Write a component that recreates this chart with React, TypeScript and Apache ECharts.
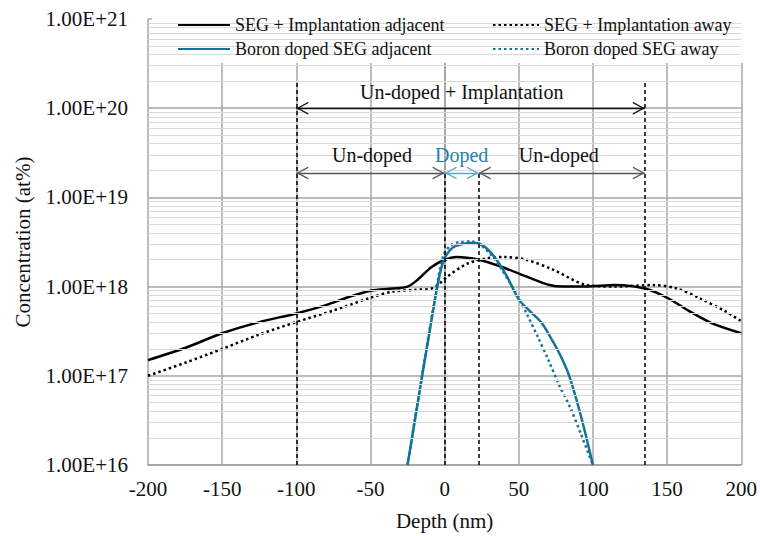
import React, { useEffect, useRef } from 'react';
import * as echarts from 'echarts';

// ---- data (depth in nm, concentration in at%) ----
const segAdjDepth = [-200, -175, -150, -125, -100, -80, -65, -50, -35, -25, -18, -9, 0, 8, 23, 39, 55, 70, 80, 95, 115, 135, 150, 165, 180, 200];
const segAdjConc = [1.5e17, 2.05e17, 3.0e17, 4.0e17, 5.0e17, 6.2e17, 7.6e17, 9.0e17, 9.5e17, 1.0e18, 1.2e18, 1.65e18, 2.0e18, 2.15e18, 2.0e18, 1.65e18, 1.3e18, 1.05e18, 1.0e18, 1.0e18, 1.04e18, 9.5e17, 7.5e17, 5.3e17, 3.9e17, 3.0e17];

const segAwayDepth = [-200, -175, -150, -125, -100, -75, -50, -35, -20, -8, 2, 15, 28, 40, 55, 73, 95, 115, 140, 156, 172, 190, 200];
const segAwayConc = [1.0e17, 1.4e17, 2.0e17, 2.9e17, 4.0e17, 5.4e17, 7.5e17, 8.8e17, 9.2e17, 9.6e17, 1.3e18, 1.8e18, 2.07e18, 2.15e18, 2.0e18, 1.55e18, 1.05e18, 1.0e18, 1.04e18, 9.6e17, 7.4e17, 5.2e17, 4.1e17];

const boronAdjDepth = [-25, -6, -1, 5, 12, 20, 27, 35, 42, 50, 58, 65, 72, 78, 84, 92, 100];
const boronAdjConc = [1e16, 8e17, 1.9e18, 2.7e18, 3.0e18, 3.1e18, 2.8e18, 2.0e18, 1.3e18, 7.2e17, 5.2e17, 4.0e17, 2.6e17, 1.7e17, 1.0e17, 3.5e16, 1e16];

const boronAwayDepth = [-25, -6, -1, 4, 10, 18, 24, 31, 38, 44, 50, 56, 63, 70, 77, 85, 92, 100];
const boronAwayConc = [1e16, 8.5e17, 2.2e18, 2.9e18, 3.15e18, 3.2e18, 2.95e18, 2.3e18, 1.6e18, 1.1e18, 7.5e17, 4.7e17, 2.7e17, 1.5e17, 8e16, 4.3e16, 2.2e16, 1e16];

const seriesNames = ['SEG + Implantation adjacent', 'SEG + Implantation away', 'Boron doped SEG adjacent', 'Boron doped SEG away'];

// region boundaries (nm) and annotation levels
const outerBounds = [-100, 135];
const innerBounds = [0, 23];
const axisFloor = 1e16;
const outerTop = 2e20;
const innerTop = 1.88e19;
const outerArrowLevel = 1e20;
const innerArrowLevel = 1.88e19;
const annotationLabels = ['Un-doped + Implantation', 'Un-doped', 'Doped', 'Un-doped'];
const annotationX = [11.5, -49, 11.5, 77];
const annotationY = [1.5e20, 2.98e19, 2.98e19, 2.98e19];

const yMinExp = 16;
const yMaxExp = 21;

const FONT = 'Liberation Serif';
const BLUE = '#13739a';
// open chevron pointing "up", tip at the centre of its (square) bounding box
const CHEVRON = 'path://M0,0 L0.5,0 L0,0.5 Z M100,0 L99.5,0 L100,0.5 Z M50,50 L77,100 L71,100 L50,61 L29,100 L23,100 Z';

function zip(xs: number[], ys: number[]) {
  return xs.map((x, i) => [x, ys[i]]);
}

export default function App() {
  const ref = useRef<HTMLDivElement>(null);
  useEffect(() => {
    const chart = echarts.init(ref.current!, null, { renderer: 'svg' });

    const minorVals: number[] = [];
    for (let e = yMinExp; e < yMaxExp; e++) {
      for (let k = 2; k <= 9; k++) minorVals.push(k * Math.pow(10, e));
    }

    const dashStyle = { type: [4, 3], color: '#000', width: 1.5 };
    const dashes = [...outerBounds.map((x) => [x, outerTop]), ...innerBounds.map((x) => [x, innerTop])].map(([x, top]) => [
      { coord: [x, axisFloor], lineStyle: dashStyle },
      { coord: [x, top] },
    ]);

    const arrows = [
      [{ coord: [outerBounds[0], outerArrowLevel], lineStyle: { color: '#111', width: 1.3, type: 'solid' } }, { coord: [outerBounds[1], outerArrowLevel] }],
      [{ coord: [outerBounds[0], innerArrowLevel], lineStyle: { color: '#555', width: 1.3, type: 'solid' } }, { coord: [innerBounds[0], innerArrowLevel] }],
      [{ coord: [innerBounds[0], innerArrowLevel], lineStyle: { color: '#5ea7cf', width: 1.3, type: 'solid' } }, { coord: [innerBounds[1], innerArrowLevel] }],
      [{ coord: [innerBounds[1], innerArrowLevel], lineStyle: { color: '#555', width: 1.3, type: 'solid' } }, { coord: [outerBounds[1], innerArrowLevel] }],
    ];

    const texts = annotationLabels.map((name, i) => ({
      name,
      coord: [annotationX[i], annotationY[i]],
      label: { color: name === 'Doped' ? '#1f82ab' : '#111' },
    }));

    const lineCommon = { type: 'line', symbol: 'none', showSymbol: false, smooth: 0.3, z: 2 };

    const legendCommon = {
      orient: 'vertical', top: 16, z: 10,
      itemHeight: 14, itemGap: 6, padding: 0,
      itemStyle: { opacity: 0, color: 'rgba(0,0,0,0)', borderWidth: 0 },
      textStyle: { fontFamily: FONT, fontSize: 18, color: '#111' },
    };

    const option: any = {
      animation: false,
      backgroundColor: '#fff',
      textStyle: { fontFamily: FONT },
      grid: { left: 148, right: 18, top: 19, bottom: 66, containLabel: false },
      graphic: [
        { type: 'rect', z: 5, shape: { x: 152, y: 18, width: 591, height: 45 }, style: { fill: '#fff' } },
      ],
      legend: [
        { ...legendCommon, data: [seriesNames[0], seriesNames[2]], left: 177, itemWidth: 52 },
        { ...legendCommon, data: [seriesNames[1], seriesNames[3]], left: 492, itemWidth: 46 },
      ],
      xAxis: {
        type: 'value', min: -200, max: 200, interval: 50,
        name: 'Depth (nm)', nameLocation: 'middle', nameGap: 45,
        nameTextStyle: { fontFamily: FONT, fontSize: 21, color: '#111' },
        axisLine: { show: true, lineStyle: { color: '#a0a0a0', width: 1.5 } },
        axisTick: { show: false },
        axisLabel: { fontFamily: FONT, fontSize: 21, color: '#111', margin: 13 },
        splitLine: { show: true, lineStyle: { color: '#a6a6a6', width: 1.5 } },
      },
      yAxis: {
        type: 'log', logBase: 10, min: Math.pow(10, yMinExp), max: Math.pow(10, yMaxExp),
        name: 'Concentration (at%)', nameLocation: 'middle', nameGap: 115,
        nameTextStyle: { fontFamily: FONT, fontSize: 21, color: '#111' },
        axisLine: { show: true, lineStyle: { color: '#a0a0a0', width: 1.5 } },
        axisTick: { show: false },
        axisLabel: {
          fontFamily: FONT, fontSize: 21, color: '#111', margin: 20,
          formatter: (v: number) => '1.00E+' + Math.round(Math.log10(v)),
        },
        splitLine: { show: true, lineStyle: { color: '#a6a6a6', width: 1.5 } },
      },
      series: [
        {
          name: 'minor-grid', type: 'line', data: [], silent: true, z: 1,
          markLine: {
            silent: true, symbol: 'none', label: { show: false },
            lineStyle: { color: '#d9d9d9', width: 1, type: 'solid' },
            emphasis: { disabled: true },
            data: minorVals.map((v) => ({ yAxis: v })),
          },
        },
        {
          ...lineCommon, name: seriesNames[0], data: zip(segAdjDepth, segAdjConc),
          lineStyle: { color: '#000', width: 2.5, type: 'solid' }, itemStyle: { color: '#000' },
        },
        {
          ...lineCommon, name: seriesNames[1], data: zip(segAwayDepth, segAwayConc),
          lineStyle: { color: '#000', width: 2.5, type: [2.5, 3] }, itemStyle: { color: '#000' },
        },
        {
          ...lineCommon, name: seriesNames[2], data: zip(boronAdjDepth, boronAdjConc),
          lineStyle: { color: BLUE, width: 2.5, type: 'solid' }, itemStyle: { color: BLUE },
        },
        {
          ...lineCommon, name: seriesNames[3], data: zip(boronAwayDepth, boronAwayConc),
          lineStyle: { color: BLUE, width: 2.5, type: [2.5, 3] }, itemStyle: { color: BLUE },
        },
        {
          name: 'dashes', type: 'line', data: [], silent: true, z: 3,
          markLine: {
            silent: true, symbol: 'none', label: { show: false },
            emphasis: { disabled: true },
            data: dashes,
          },
        },
        {
          name: 'arrows', type: 'line', data: [], silent: true, z: 3,
          markLine: {
            silent: true, symbol: [CHEVRON, CHEVRON], symbolSize: 24,
            label: { show: false }, emphasis: { disabled: true },
            data: arrows,
          },
          markPoint: {
            silent: true, symbol: 'circle', symbolSize: 1,
            itemStyle: { color: 'rgba(0,0,0,0)' },
            label: { show: true, position: 'inside', formatter: '{b}', fontFamily: FONT, fontSize: 20 },
            data: texts,
          },
        },
      ],
    };

    chart.setOption(option);
    return () => chart.dispose();
  }, []);

  return <div ref={ref} style={{ position: 'absolute', left: 0, top: 0, width: 760, height: 536 }} />;
}
